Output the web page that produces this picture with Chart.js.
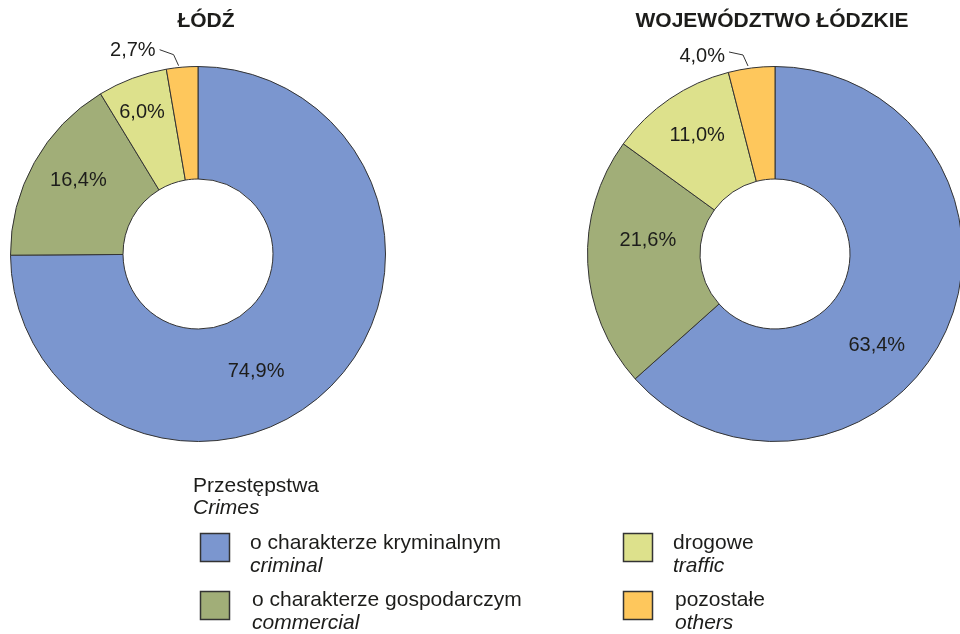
<!DOCTYPE html>
<html>
<head>
<meta charset="utf-8">
<title>Przestępstwa</title>
<script src="https://cdn.jsdelivr.net/npm/chart.js@4.4.1/dist/chart.umd.min.js"></script>
<style>
  html, body { margin: 0; padding: 0; width: 960px; height: 634px; overflow: hidden; background: #fff; }
  #lodz { position: absolute; left: 0; top: 0; }
  #wrapR { position: absolute; left: 570px; top: 0; width: 390px; height: 634px; overflow: hidden; }
  #woj { position: absolute; left: 0; top: 0; }
</style>
</head>
<body>
<canvas id="lodz" width="960" height="634"></canvas>
<div id="wrapR"><canvas id="woj" width="400" height="634"></canvas></div>
<script>
var categoriesPl = ["o charakterze kryminalnym", "o charakterze gospodarczym", "drogowe", "pozostałe"];
var categoriesEn = ["criminal", "commercial", "traffic", "others"];
var lodzValues = [74.9, 16.4, 6.0, 2.7];
var wojValues = [63.4, 21.6, 11.0, 4.0];
var chartTitles = ["ŁÓDŹ", "WOJEWÓDZTWO ŁÓDZKIE"];
var legendTitle = ["Przestępstwa", "Crimes"];
var colors = ["#7b96cf", "#a1ae78", "#dde18c", "#fec75c"];

var FONT = '"Liberation Sans", Arial, Helvetica, sans-serif';
var INK = "#1d1d1b";

function fmt(v) {
  return v.toFixed(1).replace(".", ",") + "%";
}

// titles, slice labels (and the legend on the left canvas)
var sliceLabels = {
  id: "sliceLabels",
  afterDraw: function (chart, args, opts) {
    var ctx = chart.ctx;
    var meta = chart.getDatasetMeta(0);
    var values = chart.data.datasets[0].data;
    ctx.save();
    ctx.fillStyle = INK;
    ctx.strokeStyle = "#333";

    ctx.font = "bold 21px " + FONT;
    ctx.textAlign = "center";
    ctx.textBaseline = "alphabetic";
    ctx.fillText(opts.title, opts.titleX, 27);

    ctx.font = "20px " + FONT;
    ctx.textBaseline = "middle";
    meta.data.forEach(function (arc, i) {
      var p = arc.getProps(["x", "y", "startAngle", "endAngle", "innerRadius", "outerRadius"], true);
      var mid = (p.startAngle + p.endAngle) / 2;
      var n = opts.nudge[i];
      var txt = fmt(values[i]);
      if (i === opts.outside) {
        var L = opts.leader;
        var ex = p.x + Math.cos(mid) * p.outerRadius + n[0];
        var ey = p.y + Math.sin(mid) * p.outerRadius + n[1];
        ctx.lineWidth = 1;
        ctx.beginPath();
        ctx.moveTo(ex + L.start[0], ey + L.start[1]);
        ctx.lineTo(ex + L.elbow[0], ey + L.elbow[1]);
        ctx.lineTo(ex, ey);
        ctx.stroke();
        ctx.textAlign = "right";
        ctx.fillText(txt, ex + L.text[0], ey + L.text[1]);
      } else {
        var r = (p.innerRadius + p.outerRadius) / 2;
        ctx.textAlign = "center";
        ctx.fillText(txt, p.x + Math.cos(mid) * r + n[0], p.y + Math.sin(mid) * r + n[1]);
      }
    });

    if (opts.legend) {
      ctx.textAlign = "left";
      ctx.textBaseline = "alphabetic";
      ctx.font = "21px " + FONT;
      ctx.fillText(legendTitle[0], 193, 492);
      ctx.font = "italic 21px " + FONT;
      ctx.fillText(legendTitle[1], 193, 514);

      var colX = [200, 623];
      var rowY = [533, 591];
      for (var k = 0; k < categoriesPl.length; k++) {
        var cx = colX[k < 2 ? 0 : 1];
        var ry = rowY[k % 2];
        ctx.fillStyle = colors[k];
        ctx.fillRect(cx, ry, 30, 29);
        ctx.lineWidth = 1.5;
        ctx.strokeRect(cx + 0.5, ry + 0.5, 29, 28);
        ctx.fillStyle = INK;
        var tx = cx + 50 + (k % 2) * 2;
        ctx.font = "21px " + FONT;
        ctx.fillText(categoriesPl[k], tx, ry + 16 - (k % 2) * 1);
        ctx.font = "italic 21px " + FONT;
        ctx.fillText(categoriesEn[k], tx, ry + 39 - (k % 2) * 1);
      }
    }
    ctx.restore();
  }
};

function makeDoughnut(id, values, pad, labelOpts) {
  var ctx = document.getElementById(id).getContext("2d");
  return new Chart(ctx, {
    type: "doughnut",
    data: {
      labels: categoriesPl,
      datasets: [{
        data: values,
        backgroundColor: colors,
        borderColor: "#333",
        borderWidth: 1
      }]
    },
    options: {
      responsive: false,
      animation: false,
      events: [],
      cutout: 75,
      layout: { padding: pad },
      plugins: {
        legend: { display: false },
        tooltip: { enabled: false },
        sliceLabels: labelOpts
      }
    },
    plugins: [sliceLabels]
  });
}

makeDoughnut("lodz", lodzValues,
  { left: 10, right: 574, top: 66, bottom: 192 },
  {
    title: chartTitles[0], titleX: 206, legend: true, outside: 3,
    nudge: [[-35, 25], [-5, -10], [-10, -19], [-3.5, -1.5]],
    leader: { start: [-19, -16], elbow: [-5, -11], text: [-23, -15] }
  });

makeDoughnut("woj", wojValues,
  { left: 17, right: 7, top: 66, bottom: 192 },
  {
    title: chartTitles[1], titleX: 202, legend: false, outside: 3,
    nudge: [[-18, 38], [4, -20], [-4, -10], [-3.5, -2]],
    leader: { start: [-19, -14], elbow: [-5, -11], text: [-23, -9] }
  });
</script>
</body>
</html>
